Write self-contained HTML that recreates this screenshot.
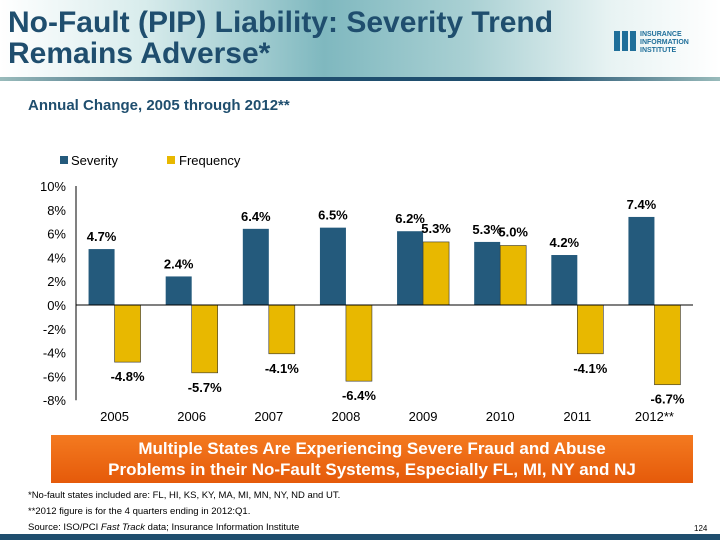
<!DOCTYPE html>
<html><head><meta charset="utf-8"><style>
body{margin:0;width:720px;height:540px;overflow:hidden;background:#fff;font-family:"Liberation Sans",sans-serif;position:relative}
.abs{position:absolute}
</style></head><body>
<div class="abs" style="left:0;top:0;width:720px;height:78px;background:linear-gradient(90deg,#ffffff 0%,#d8ecec 20%,#7fb8bf 45%,#a9d0d3 65%,#e8f3f3 85%,#ffffff 100%)"></div>
<div class="abs" style="left:0;top:77px;width:720px;height:4px;background:linear-gradient(90deg,#9bb 0%,#1f4e6e 30%,#1f4e6e 75%,#9bb 100%)"></div>
<div class="abs" style="left:8px;top:7px;font-size:30px;font-weight:bold;color:#1f4e6e;line-height:31px;white-space:nowrap">No-Fault (PIP) Liability: Severity Trend<br>Remains Adverse*</div>
<div class="abs" style="left:612px;top:27px;width:100px;height:26px">
<svg width="100" height="26"><g fill="#1f6f9a"><rect x="2" y="4" width="6" height="20"/><rect x="10" y="4" width="6" height="20"/><rect x="18" y="4" width="6" height="20"/></g>
<text x="28" y="9" font-size="7" font-weight="bold" fill="#1f6f9a" font-family="Liberation Sans">INSURANCE</text>
<text x="28" y="17" font-size="7" font-weight="bold" fill="#1f6f9a" font-family="Liberation Sans">INFORMATION</text>
<text x="28" y="25" font-size="7" font-weight="bold" fill="#1f6f9a" font-family="Liberation Sans">INSTITUTE</text></svg></div>
<div class="abs" style="left:28px;top:97px;font-size:15px;font-weight:bold;color:#1f4e6e">Annual Change, 2005 through 2012**</div>
<svg class="abs" style="left:0;top:140px" width="720" height="290" id="chart"></svg>
<div class="abs" style="left:51px;top:435px;width:642px;height:48px;background:linear-gradient(180deg,#f47a20,#e55a0a);color:#fff;font-weight:bold;font-size:17px;text-align:center;line-height:21px;padding-top:3px;box-sizing:border-box">Multiple States Are Experiencing Severe Fraud and Abuse<br>Problems in their No-Fault Systems, Especially FL, MI, NY and NJ</div>
<div class="abs" style="left:28px;top:488px;font-size:9.5px;color:#000;line-height:16px">*No-fault states included are: FL, HI, KS, KY, MA, MI, MN, NY, ND and UT.<br>**2012 figure is for the 4 quarters ending in 2012:Q1.<br>Source: ISO/PCI <i>Fast Track</i> data; Insurance Information Institute</div>
<div class="abs" style="left:694px;top:524px;font-size:8px">124</div>
<div class="abs" style="left:0;top:534px;width:720px;height:6px;background:#1f4e6e"></div>
<script>
const categories=["2005","2006","2007","2008","2009","2010","2011","2012**"];
const severity=[4.7,2.4,6.4,6.5,6.2,5.3,4.2,7.4];
const frequency=[-4.8,-5.7,-4.1,-6.4,5.3,5.0,-4.1,-6.7];
const yTicks=[10,8,6,4,2,0,-2,-4,-6,-8];
const svg=document.getElementById('chart');
const NS='http://www.w3.org/2000/svg';
const top0=140;
function y(v){return 305-top0-v*11.9;}
const x0=76,x1=693,gw=(x1-x0)/categories.length,bw=26;
function mk(t,a,txt){const e=document.createElementNS(NS,t);for(const k in a)e.setAttribute(k,a[k]);if(txt!==undefined)e.textContent=txt;svg.appendChild(e);return e;}
let e=mk('rect',{x:60,y:16,width:8,height:8,fill:'#245a7c'});
e=mk('text',{x:71,y:25,'font-size':13,'font-family':'Liberation Sans'},'Severity');
e=mk('rect',{x:167,y:16,width:8,height:8,fill:'#e8b800'});
e=mk('text',{x:179,y:25,'font-size':13,'font-family':'Liberation Sans'},'Frequency');
yTicks.forEach(t=>{e=mk('text',{x:66,y:y(t)+5,'text-anchor':'end','font-size':13,'font-family':'Liberation Sans'},t+'%');});
e=mk('line',{x1:x0,x2:x0,y1:y(10),y2:y(-8),stroke:'#000'});
categories.forEach((c,i)=>{
 const cx=x0+gw*(i+0.5);
 const s=severity[i],f=frequency[i];
 e=mk('rect',{x:cx-bw,y:Math.min(y(s),y(0)),width:bw,height:Math.abs(y(s)-y(0)),fill:'#245a7c'});
 e=mk('rect',{x:cx,y:Math.min(y(f),y(0)),width:bw,height:Math.abs(y(f)-y(0)),fill:'#e8b800',stroke:'#333','stroke-width':0.6});
 e=mk('text',{x:cx-bw/2,y:s>=0?y(s)-8:y(s)+19,'text-anchor':'middle','font-size':13,'font-weight':'bold','font-family':'Liberation Sans'},s.toFixed(1)+'%');
 e=mk('text',{x:cx+bw/2,y:f>=0?y(f)-9:y(f)+19,'text-anchor':'middle','font-size':13,'font-weight':'bold','font-family':'Liberation Sans'},f.toFixed(1)+'%');
 e=mk('text',{x:cx,y:y(-8)+21,'text-anchor':'middle','font-size':13,'font-family':'Liberation Sans'},c);
});
e=mk('line',{x1:x0,x2:x1,y1:y(0),y2:y(0),stroke:'#000'});
</script>
</body></html>
